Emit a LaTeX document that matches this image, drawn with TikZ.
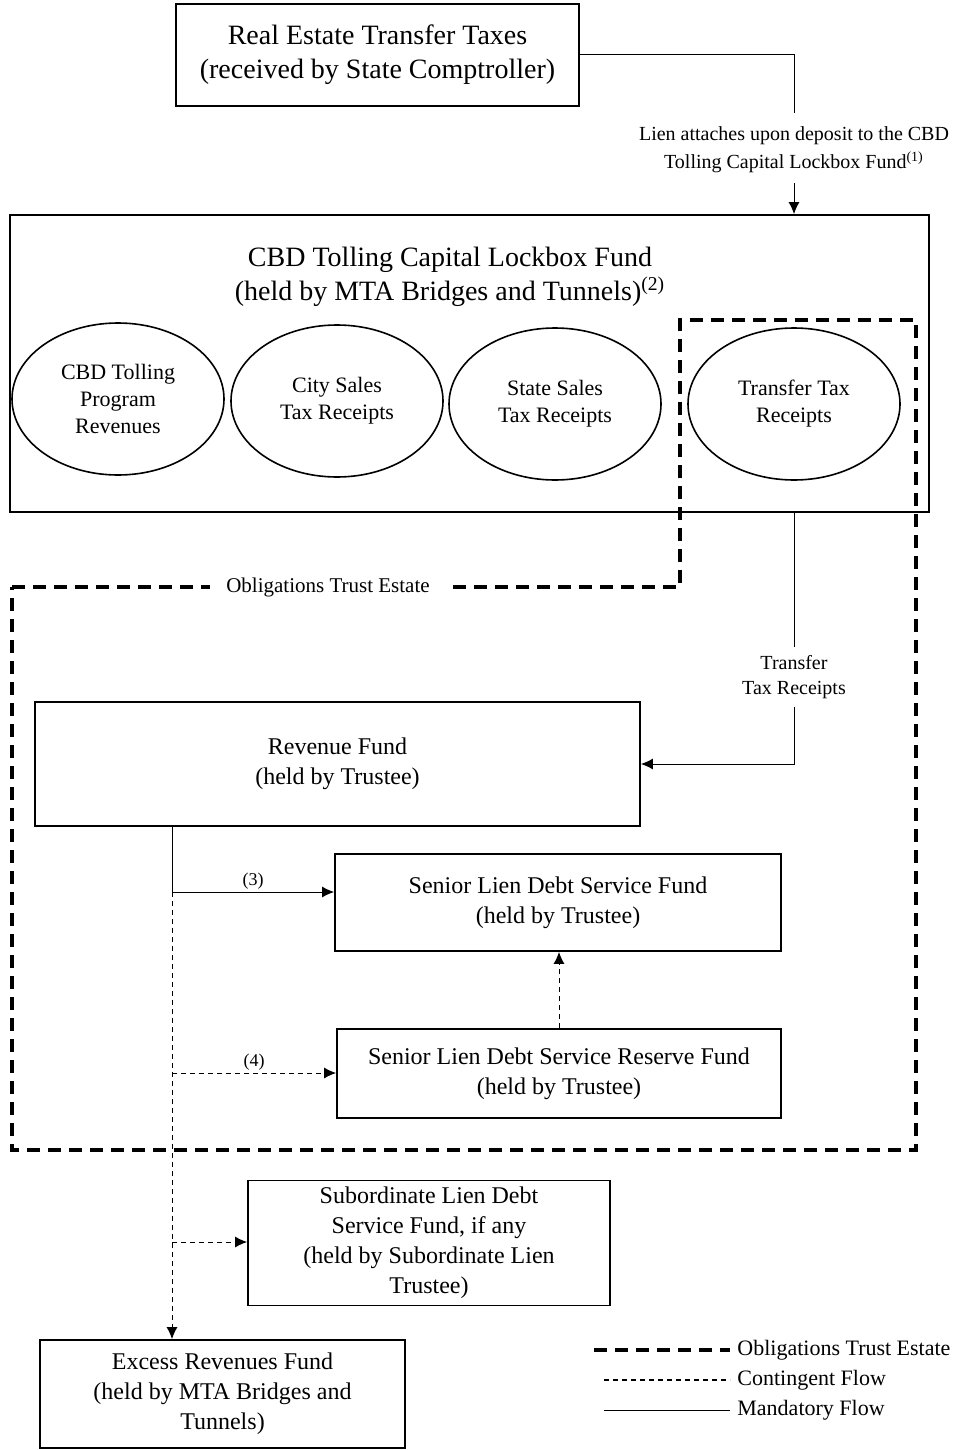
\documentclass[tikz,border=0pt]{standalone}
\usepackage{fontspec}
\setmainfont{Liberation Serif}
\usetikzlibrary{shapes.geometric, arrows.meta, positioning, calc}

\begin{document}
\begin{tikzpicture}[
    x=0.5pt, y=-0.5pt,
    box/.style={rectangle, draw=black, line width=0.9pt, align=center, font=\fontsize{12}{15}\selectfont},
    pool/.style={ellipse, draw=black, line width=0.8pt, align=center, minimum width=106pt, minimum height=76pt, font=\fontsize{11}{13.5}\selectfont},
    lbl/.style={align=center, inner sep=4pt, font=\fontsize{10}{14}\selectfont},
    arrow/.style={->, >={Latex[length=6pt, width=5.5pt]}, line width=0.5pt},
    contingent/.style={line width=0.6pt, dash pattern=on 2.5pt off 2pt},
    estate/.style={line width=1.6pt, dash pattern=on 6.5pt off 4pt}
]
    \useasboundingbox (0,0) rectangle (972,1450);

    % sources
    \node[box, minimum width=201.5pt, minimum height=51pt, font=\fontsize{14}{17}\selectfont] (tax) at (377.5,55) {Real Estate Transfer Taxes\\(received by State Comptroller)};
    \node[lbl, inner sep=1pt] (lien) at (794,150) {Lien attaches upon deposit to the CBD\\Tolling Capital Lockbox Fund\textsuperscript{(1)}};

    \node[box, minimum width=459.5pt, minimum height=148.5pt] (lockbox) at (469.5,363.5) {};
    \node[align=center, font=\fontsize{14}{17}\selectfont] (title) at (450,277) {CBD Tolling Capital Lockbox Fund\\(held by MTA Bridges and Tunnels)\textsuperscript{(2)}};
    \node[pool] (cbdrev) at (118,399) {CBD Tolling\\Program\\Revenues};
    \node[pool] (citysales) at (337,401) {City Sales\\Tax Receipts};
    \node[pool] (statesales) at (555,404) {State Sales\\Tax Receipts};
    \node[pool] (transfer) at (794,404) {Transfer Tax\\Receipts};

    \draw[line width=0.5pt] (tax.east) -| ([yshift=6pt]lien.north);
    \draw[arrow] ([yshift=-4pt]lien.south) -- (lien.south |- lockbox.north);

    % trust estate
    \draw[estate] (12,587) -- node[pos=0.473, fill=white, inner sep=8pt, font=\fontsize{10.5}{12}\selectfont] (estlbl) {Obligations Trust Estate} (680,587) -- (680,320) -- (916,320) -- (916,1150) -- (12,1150) -- cycle;

    \node[box, minimum width=302.5pt, minimum height=62pt] (revenue) at (337.5,764) {Revenue Fund\\(held by Trustee)};
    \node[box, minimum width=223pt, minimum height=48.5pt] (senior) at (558,902.5) {Senior Lien Debt Service Fund\\(held by Trustee)};
    \node[box, minimum width=222pt, minimum height=44.5pt] (reserve) at (559,1073.5) {Senior Lien Debt Service Reserve Fund\\(held by Trustee)};
    \node[box, minimum width=181pt, minimum height=61pt] (subord) at (429,1243) {Subordinate Lien Debt\\Service Fund, if any\\(held by Subordinate Lien\\Trustee)};
    \node[box, minimum width=182.5pt, minimum height=54pt] (excess) at (222.5,1394) {Excess Revenues Fund\\(held by MTA Bridges and\\Tunnels)};

    \node[lbl, font=\fontsize{10}{12.5}\selectfont] (ttr) at (794,677) {Transfer\\Tax Receipts};
    \draw[line width=0.5pt] (transfer.south |- lockbox.south) -- (ttr.north);
    \draw[arrow] (ttr.south) |- (revenue.east);

    % flows out of the revenue fund
    \coordinate (s3) at (172,892);
    \coordinate (s4) at (172,1073);
    \coordinate (s5) at (172,1242);
    \draw[line width=0.5pt] (revenue.south -| s3) -- (s3);
    \draw[arrow] (s3) -- node[above, inner sep=1pt, font=\fontsize{9}{11}\selectfont] {(3)} (s3 -| senior.west);
    \draw[contingent, arrow] (s3) -- (s3 |- excess.north);
    \draw[contingent, arrow] (s4) -- node[above, inner sep=1pt, font=\fontsize{9}{11}\selectfont] {(4)} (s4 -| reserve.west);
    \draw[contingent, arrow] (s5) -- (s5 -| subord.west);
    \draw[contingent, arrow] (reserve.north) -- (reserve.north |- senior.south);

    % legend
    \node[anchor=west, inner sep=3.5pt, font=\fontsize{11}{13}\selectfont] (key1) at (730,1350) {Obligations Trust Estate};
    \node[anchor=west, inner sep=3.5pt, font=\fontsize{11}{13}\selectfont] (key2) at (730,1380) {Contingent Flow};
    \node[anchor=west, inner sep=3.5pt, font=\fontsize{11}{13}\selectfont] (key3) at (730,1410) {Mandatory Flow};
    \coordinate (k1) at (594,1350);
    \coordinate (k2) at (604,1380);
    \coordinate (k3) at (604,1410);
    \draw[estate] (k1) -- (key1.west);
    \draw[contingent] (k2) -- (key2.west);
    \draw[line width=0.5pt] (k3) -- (key3.west);
\end{tikzpicture}
\end{document}
